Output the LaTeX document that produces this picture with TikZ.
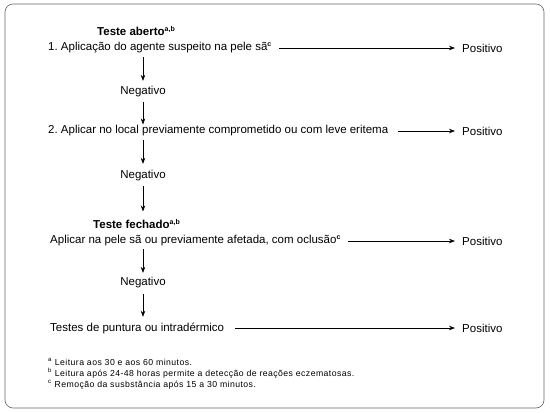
\documentclass[tikz,border=0pt]{standalone}
\usepackage{fontspec}
\setmainfont{Liberation Sans}
\newfontfamily\notefont[LetterSpace=5]{Liberation Sans}
\usetikzlibrary{arrows.meta}
\frenchspacing
\begin{document}
\begin{tikzpicture}[x=1pt,y=-1pt,
  txt/.style={inner sep=0pt,font=\fontsize{11.5}{13}\selectfont,anchor=west},
  negtxt/.style={inner sep=1pt,font=\fontsize{11.5}{13}\selectfont},
  postxt/.style={inner sep=0pt,font=\fontsize{11.5}{13}\selectfont,anchor=west},
  head/.style={inner sep=0pt,font=\bfseries\fontsize{11.5}{13}\selectfont,anchor=west},
  note/.style={inner sep=0pt,font=\notefont\fontsize{8.7}{10}\selectfont,anchor=west},
  arr/.style={-{Stealth[length=6pt,width=4.5pt]},line width=0.6pt}]
\useasboundingbox (0,0) rectangle (550,413);
\draw[gray!80!black,line width=0.6pt,rounded corners=8pt] (5,4) rectangle (544,408);
\newcommand{\sups}[1]{\textsuperscript{\bfseries\fontsize{7}{7}\selectfont #1}}
\node[head] (h1) at (97,31) {Teste aberto\sups{a,b}};
\node[txt] (s1) at (48,48) {1. Aplicação do agente suspeito na pele sã\sups{c}};
\node[postxt] (p1) at (462,48) {Positivo};
\node[negtxt] (n1) at (143,92) {Negativo};
\node[txt] (s2) at (48,131) {2. Aplicar no local previamente comprometido ou com leve eritema};
\node[postxt] (p2) at (462,131) {Positivo};
\node[negtxt] (n2) at (143,176) {Negativo};
\node[head] (h2) at (93,224) {Teste fechado\sups{a,b}};
\node[txt] (s3) at (50,241) {Aplicar na pele sã ou previamente afetada, com oclusão\sups{c}};
\node[postxt] (p3) at (462,241) {Positivo};
\node[negtxt] (n3) at (143,283) {Negativo};
\node[txt] (s4) at (50,328) {Testes de puntura ou intradérmico};
\node[postxt] (p4) at (462,328) {Positivo};
\node[note] (f1) at (48,362) {\textsuperscript{a} Leitura aos 30 e aos 60 minutos.};
\node[note] (f2) at (48,373) {\textsuperscript{b} Leitura após 24-48 horas permite a detecção de reações eczematosas.};
\node[note] (f3) at (48,385) {\textsuperscript{c} Remoção da susbstância após 15 a 30 minutos.};
\draw[arr,shorten <=7pt,shorten >=7pt] (s1.east) -- (p1.west);
\draw[arr,shorten <=10pt,shorten >=7pt] (s2.east) -- (p2.west);
\draw[arr,shorten <=7pt,shorten >=7pt] (s3.east) -- (p3.west);
\draw[arr,shorten <=11pt,shorten >=7pt] (s4.east) -- (p4.west);
\draw[arr,shorten <=3.6pt,shorten >=4.6pt] (n1 |- s1.south) -- (n1.north);
\draw[arr,shorten <=3.6pt,shorten >=1pt] (n1.south) -- (n1 |- s2.north);
\draw[arr,shorten <=3.6pt,shorten >=5.6pt] (n2 |- s2.south) -- (n2.north);
\draw[arr,shorten <=3.6pt,shorten >=7.6pt] (n2.south) -- (n2 |- h2.north);
\draw[arr,shorten <=2.6pt,shorten >=3.6pt] (n3 |- s3.south) -- (n3.north);
\draw[arr,shorten <=4.6pt,shorten >=5.6pt] (n3.south) -- (n3 |- s4.north);
\end{tikzpicture}
\end{document}
